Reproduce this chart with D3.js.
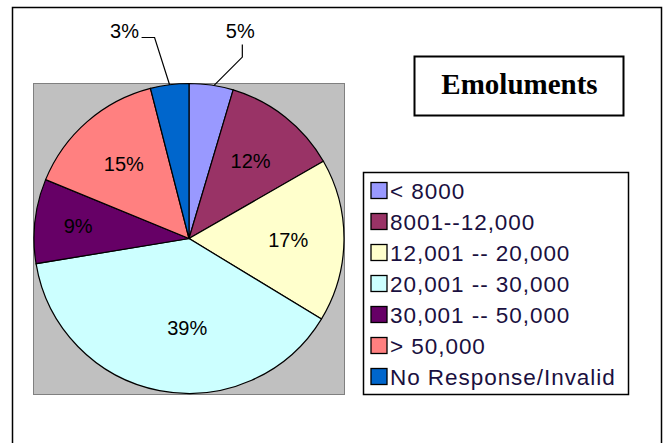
<!DOCTYPE html>
<html>
<head>
<meta charset="utf-8">
<script src="https://cdn.jsdelivr.net/npm/d3@7"></script>
<style>
  body { margin: 0; background: #fff; }
  svg { display: block; }
</style>
</head>
<body>
<script>
'use strict';

(function() {

  // categories, shares and the printed labels
  const categories = ["< 8000", "8001--12,000", "12,001 -- 20,000", "20,001 -- 30,000",
                      "30,001 -- 50,000", "> 50,000", "No Response/Invalid"];
  const shares = [4.6, 12.1, 17.0, 38.7, 8.8, 14.8, 4.0];
  const pctLabels = ["5%", "12%", "17%", "39%", "9%", "15%", "3%"];
  const sliceColors = ["#9999FF", "#993366", "#FFFFCC", "#CCFFFF", "#660066", "#FF8080", "#0066CC"];

  let svgContainer = "";

  window.onload = function() {
    svgContainer = d3.select('body')
                     .append('svg')
                     .attr('width', 670)
                     .attr('height', 443);
    drawFrame();
    drawPie();
    drawLegend();
    drawTitle();
  }

  // outer border of the chart
  function drawFrame() {
    svgContainer.append('rect')
      .attr('x', 12.5)
      .attr('y', 7.5)
      .attr('width', 649)
      .attr('height', 450)
      .attr('fill', 'white')
      .attr('stroke', 'black')
      .attr('stroke-width', 1.5);
  }

  function drawPie() {
    let cx = 189, cy = 238.5, radius = 155;

    // gray plot area
    svgContainer.append('rect')
      .attr('x', 33.5)
      .attr('y', 83.5)
      .attr('width', 311)
      .attr('height', 311)
      .attr('fill', '#C0C0C0')
      .attr('stroke', '#808080')
      .attr('stroke-width', 1);

    let pie = d3.pie().sort(null).value((d) => d)(shares);
    let arc = d3.arc().innerRadius(0).outerRadius(radius);

    let g = svgContainer.append('g')
      .attr('transform', 'translate(' + cx + ',' + cy + ')');

    g.selectAll('.slice')
      .data(pie)
      .enter()
      .append('path')
      .attr('class', 'slice')
      .attr('d', arc)
      .attr('fill', (d, i) => sliceColors[i])
      .attr('stroke', 'black')
      .attr('stroke-width', 1.2);

    // labels inside the big slices, outside (with leader lines) for small ones
    pie.forEach(function(d, i) {
      let mid = (d.startAngle + d.endAngle) / 2;
      let share = shares[i];
      if (share >= 6) {
        let r = share < 10 ? radius * 0.72 : radius * 0.64;
        // excel pulls the label of the largest slice toward the bottom
        if (share > 30) {
          mid = Math.PI + (mid - Math.PI) * 0.1;
          r = radius * 0.58;
        }
        svgContainer.append('text')
          .attr('x', cx + Math.sin(mid) * r)
          .attr('y', cy - Math.cos(mid) * r)
          .attr('dy', '0.35em')
          .attr('text-anchor', 'middle')
          .style('font-family', '"Liberation Sans", Arial, sans-serif')
          .style('font-size', '20px')
          .text(pctLabels[i]);
      } else {
        let sx = cx + Math.sin(mid) * radius;
        let sy = cy - Math.cos(mid) * radius;
        let ly = cy - radius - 53;
        let pts, lx;
        if (Math.sin(mid) > 0) {
          lx = sx + 29;
          pts = [[sx + 3, sy], [lx + 2, sy - 28], [lx + 2, ly + 14]];
        } else {
          lx = sx - 45;
          pts = [[sx, sy], [sx - 15, ly + 7], [lx + 17, ly + 7]];
        }
        svgContainer.append('path')
          .attr('d', d3.line()(pts))
          .attr('fill', 'none')
          .attr('stroke', 'black')
          .attr('stroke-width', 1.2);
        svgContainer.append('text')
          .attr('x', lx)
          .attr('y', ly)
          .attr('dy', '0.35em')
          .attr('text-anchor', 'middle')
          .style('font-family', '"Liberation Sans", Arial, sans-serif')
          .style('font-size', '20px')
          .text(pctLabels[i]);
      }
    });
  }

  function drawLegend() {
    let x0 = 363, y0 = 172;
    let rowScale = d3.scalePoint()
      .domain(categories)
      .range([190.5, 376.5]);

    svgContainer.append('rect')
      .attr('x', x0 + 0.5)
      .attr('y', y0 + 0.5)
      .attr('width', 265)
      .attr('height', 222)
      .attr('fill', 'white')
      .attr('stroke', 'black')
      .attr('stroke-width', 1.5);

    let legend = svgContainer.selectAll('.legend')
      .data(categories)
      .enter()
      .append('g')
      .attr('class', 'legend')
      .attr('transform', (d) => 'translate(' + (x0 + 8) + ',' + rowScale(d) + ')');

    legend.append('rect')
      .attr('x', 0)
      .attr('y', -8)
      .attr('width', 16)
      .attr('height', 16)
      .attr('fill', (d, i) => sliceColors[i])
      .attr('stroke', 'black')
      .attr('stroke-width', 1.3);

    legend.append('text')
      .attr('x', 19)
      .attr('y', 8)
      .style('font-family', '"Liberation Sans", Arial, sans-serif')
      .style('font-size', '22.5px')
      .style('letter-spacing', '0.95px')
      .style('fill', '#1a1040')
      .text((d) => d);
  }

  function drawTitle() {
    svgContainer.append('rect')
      .attr('x', 414.5)
      .attr('y', 56.5)
      .attr('width', 209)
      .attr('height', 59)
      .attr('fill', 'white')
      .attr('stroke', 'black')
      .attr('stroke-width', 2);

    svgContainer.append('text')
      .attr('x', 519.5)
      .attr('y', 94)
      .attr('text-anchor', 'middle')
      .style('font-family', '"Liberation Serif", "Times New Roman", serif')
      .style('font-weight', 'bold')
      .style('font-size', '29px')
      .text('Emoluments');
  }

})();
</script>
</body>
</html>
